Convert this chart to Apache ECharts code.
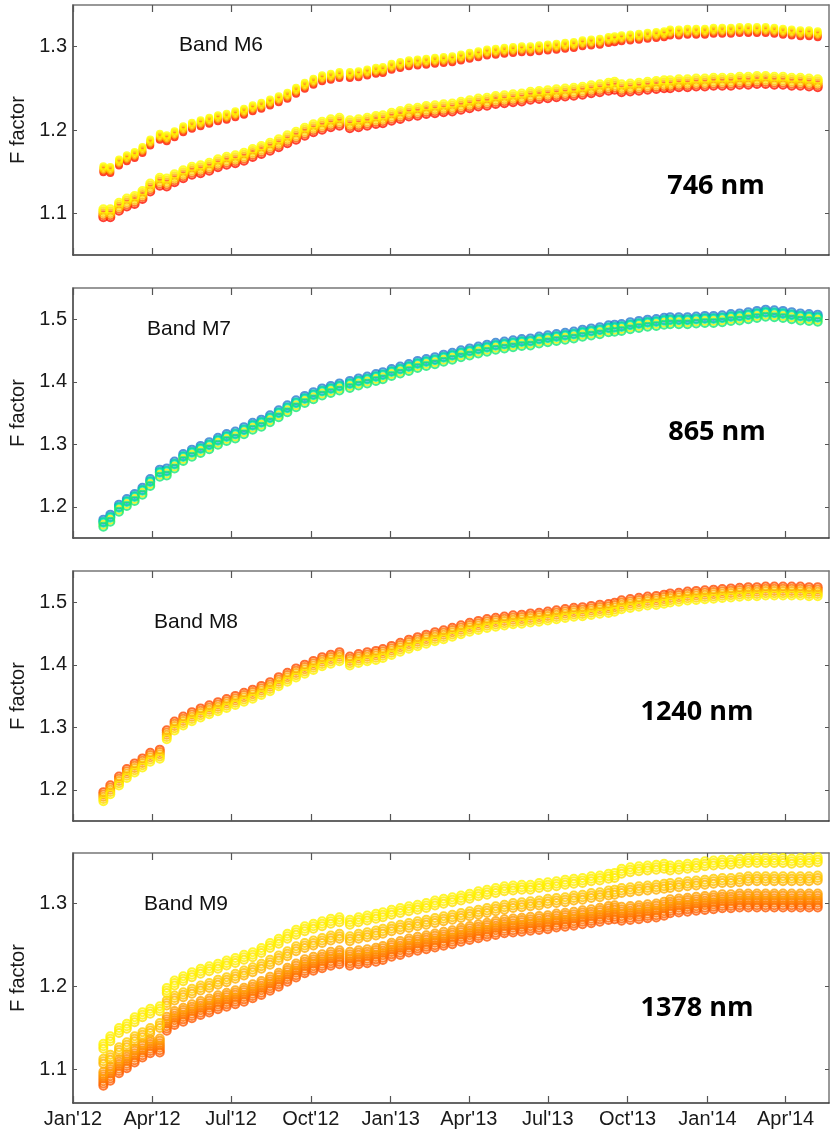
<!DOCTYPE html>
<html>
<head>
<meta charset="utf-8">
<script src="https://cdn.jsdelivr.net/npm/echarts@6/dist/echarts.min.js"></script>
<style>
  html, body { margin: 0; padding: 0; background: #fff; }
  #chart { width: 831px; height: 1131px; }
</style>
</head>
<body>
<div id="chart"></div>
<script>
// F factor trends, VIIRS bands M6-M9
const dates = [
  '2012-02-05','2012-02-13','2012-02-23','2012-03-03','2012-03-12','2012-03-21','2012-03-30','2012-04-10','2012-04-18','2012-04-27',
  '2012-05-07','2012-05-17','2012-05-27','2012-06-06','2012-06-16','2012-06-26','2012-07-06','2012-07-16','2012-07-26','2012-08-05',
  '2012-08-15','2012-08-25','2012-09-04','2012-09-14','2012-09-24','2012-10-04','2012-10-14','2012-10-24','2012-11-03','2012-11-15',
  '2012-11-25','2012-12-05','2012-12-15','2012-12-23','2013-01-02','2013-01-12','2013-01-22','2013-02-01','2013-02-11','2013-02-21',
  '2013-03-03','2013-03-13','2013-03-23','2013-04-02','2013-04-12','2013-04-22','2013-05-02','2013-05-12','2013-05-22','2013-06-01',
  '2013-06-11','2013-06-21','2013-07-01','2013-07-11','2013-07-21','2013-07-31','2013-08-10','2013-08-20','2013-08-30','2013-09-09',
  '2013-09-16','2013-09-24','2013-10-04','2013-10-14','2013-10-24','2013-11-03','2013-11-12','2013-11-19','2013-11-29','2013-12-09',
  '2013-12-19','2013-12-29','2014-01-08','2014-01-18','2014-01-28','2014-02-07','2014-02-17','2014-02-27','2014-03-09','2014-03-19',
  '2014-03-29','2014-04-08','2014-04-18','2014-04-28','2014-05-08'
];

const xTickDates = ['2012-01-01','2012-04-01','2012-07-01','2012-10-01','2013-01-01','2013-04-01','2013-07-01','2013-10-01','2014-01-01','2014-04-01'];
const xTickLabels = ["Jan'12","Apr'12","Jul'12","Oct'12","Jan'13","Apr'13","Jul'13","Oct'13","Jan'14","Apr'14"];

// Band M6, two groups of detectors
const m6Lower = [
  1.100,1.100,1.108,1.113,1.116,1.122,1.131,1.138,1.137,1.142,
  1.147,1.151,1.153,1.156,1.160,1.163,1.165,1.168,1.1725,1.176,
  1.180,1.184,1.189,1.193,1.198,1.202,1.205,1.208,1.210,1.207,
  1.208,1.210,1.212,1.213,1.216,1.218,1.221,1.222,1.224,1.225,
  1.226,1.227,1.229,1.231,1.233,1.234,1.236,1.237,1.238,1.239,
  1.241,1.242,1.243,1.244,1.245,1.246,1.247,1.249,1.250,1.252,
  1.253,1.250,1.251,1.252,1.253,1.254,1.255,1.255,1.256,1.256,
  1.257,1.257,1.258,1.258,1.258,1.259,1.259,1.260,1.260,1.259,
  1.259,1.258,1.258,1.257,1.256
];
const m6Upper = [
  1.153,1.152,1.161,1.166,1.170,1.176,1.185,1.192,1.190,1.195,
  1.201,1.205,1.208,1.211,1.214,1.216,1.219,1.222,1.226,1.229,
  1.233,1.237,1.241,1.247,1.253,1.258,1.262,1.264,1.266,1.266,
  1.267,1.269,1.271,1.272,1.276,1.278,1.280,1.281,1.282,1.283,
  1.284,1.285,1.287,1.289,1.291,1.293,1.294,1.295,1.296,1.297,
  1.297,1.298,1.299,1.300,1.301,1.302,1.304,1.305,1.306,1.308,
  1.309,1.310,1.311,1.312,1.313,1.314,1.315,1.317,1.317,1.318,
  1.318,1.318,1.319,1.319,1.319,1.320,1.320,1.320,1.320,1.319,
  1.318,1.317,1.316,1.316,1.315
];
// Band M7
const m7 = [
  1.173,1.181,1.197,1.206,1.214,1.224,1.238,1.253,1.255,1.266,
  1.278,1.285,1.291,1.297,1.304,1.310,1.314,1.321,1.328,1.333,
  1.340,1.348,1.356,1.364,1.371,1.377,1.383,1.387,1.391,1.395,
  1.399,1.402,1.406,1.409,1.414,1.418,1.422,1.427,1.430,1.433,
  1.437,1.440,1.444,1.447,1.450,1.453,1.456,1.458,1.460,1.462,
  1.463,1.466,1.468,1.470,1.472,1.474,1.477,1.479,1.481,1.484,
  1.485,1.486,1.489,1.491,1.493,1.494,1.496,1.497,1.497,1.497,
  1.498,1.499,1.499,1.500,1.502,1.503,1.505,1.507,1.509,1.508,
  1.507,1.505,1.503,1.502,1.501
];
// Band M8
const m8 = [
  1.189,1.200,1.214,1.226,1.235,1.243,1.252,1.257,1.288,1.302,
  1.310,1.317,1.323,1.328,1.333,1.338,1.343,1.348,1.353,1.359,
  1.365,1.373,1.380,1.387,1.393,1.399,1.405,1.409,1.413,1.406,
  1.410,1.413,1.415,1.418,1.423,1.428,1.433,1.437,1.441,1.445,
  1.448,1.452,1.456,1.460,1.463,1.466,1.468,1.470,1.472,1.473,
  1.475,1.476,1.478,1.480,1.482,1.484,1.485,1.487,1.489,1.490,
  1.492,1.496,1.498,1.500,1.502,1.503,1.505,1.507,1.508,1.510,
  1.511,1.512,1.513,1.514,1.515,1.516,1.517,1.517,1.518,1.518,
  1.518,1.518,1.518,1.517,1.517
];
// Band M9, three groups of detectors
const m9Top = [
  1.128,1.137,1.147,1.152,1.160,1.166,1.170,1.173,1.195,1.204,
  1.209,1.214,1.218,1.221,1.224,1.228,1.231,1.235,1.238,1.243,
  1.249,1.254,1.260,1.265,1.269,1.272,1.275,1.278,1.280,1.277,
  1.280,1.282,1.284,1.286,1.289,1.291,1.293,1.295,1.297,1.300,
  1.302,1.304,1.306,1.308,1.311,1.313,1.315,1.317,1.318,1.319,
  1.319,1.321,1.322,1.323,1.325,1.326,1.327,1.329,1.330,1.332,
  1.333,1.338,1.340,1.341,1.342,1.343,1.344,1.342,1.343,1.344,
  1.345,1.347,1.348,1.349,1.349,1.350,1.351,1.351,1.351,1.351,
  1.351,1.350,1.351,1.351,1.352
];
const m9Mid = [
  1.110,1.115,1.124,1.130,1.137,1.142,1.147,1.153,1.180,1.186,
  1.190,1.194,1.198,1.201,1.205,1.208,1.212,1.216,1.220,1.224,
  1.229,1.234,1.239,1.245,1.249,1.252,1.255,1.258,1.260,1.257,
  1.260,1.262,1.264,1.266,1.269,1.271,1.273,1.275,1.277,1.279,
  1.281,1.283,1.285,1.287,1.289,1.291,1.293,1.295,1.297,1.298,
  1.299,1.300,1.302,1.303,1.304,1.306,1.307,1.309,1.310,1.312,
  1.313,1.315,1.316,1.317,1.318,1.319,1.320,1.321,1.322,1.323,
  1.324,1.325,1.326,1.327,1.327,1.328,1.329,1.329,1.329,1.329,
  1.329,1.329,1.329,1.329,1.330
];
const m9Bottom = [
  1.089,1.095,1.104,1.110,1.117,1.123,1.128,1.129,1.155,1.162,
  1.166,1.170,1.174,1.177,1.181,1.184,1.187,1.190,1.194,1.198,
  1.203,1.208,1.214,1.219,1.224,1.227,1.230,1.233,1.235,1.233,
  1.235,1.236,1.238,1.240,1.244,1.246,1.249,1.251,1.253,1.255,
  1.257,1.259,1.262,1.264,1.266,1.268,1.270,1.272,1.273,1.274,
  1.275,1.276,1.277,1.279,1.280,1.281,1.283,1.284,1.286,1.288,
  1.289,1.287,1.288,1.289,1.290,1.291,1.293,1.296,1.297,1.298,
  1.299,1.300,1.301,1.302,1.302,1.303,1.303,1.303,1.303,1.303,
  1.303,1.303,1.303,1.303,1.303
];

const yTicks6 = [1.1, 1.2, 1.3];
const yTicks7 = [1.2, 1.3, 1.4, 1.5];
const yTicks8 = [1.2, 1.3, 1.4, 1.5];
const yTicks9 = [1.1, 1.2, 1.3];

// detector rings: pixel shift + colour (drawn first to last)
const autumn = ['#ff1000', '#ff5a00', '#ffb800', '#ffe400', '#ffff00'];
function ring(shifts, colors) {
  return shifts.map((s, i) => ({ s: s, c: colors[i] }));
}

const panels = [
  {
    top: 5, min: 1.05, max: 1.35, ticks: yTicks6,
    band: 'Band M6', bandPos: [179, 45], wl: '746 nm', wlPos: [716, 186],
    strands: [
      { data: m6Lower, size: 8, det: ring([4, 2, 0, -2, -4], autumn) },
      { data: m6Upper, size: 6, det: ring([3, 1.5, 0, -1.5, -3], autumn) }
    ]
  },
  {
    top: 288, min: 1.15, max: 1.55, ticks: yTicks7,
    band: 'Band M7', bandPos: [147, 329], wl: '865 nm', wlPos: [717, 432],
    strands: [
      { data: m7, size: 8, det: ring([-4, -2, 1, -1, 3], ['#2a7ad0', '#00bcb0', '#e8f000', '#00e0a0', '#14e878']) }
    ]
  },
  {
    top: 571, min: 1.15, max: 1.55, ticks: yTicks8,
    band: 'Band M8', bandPos: [154, 622], wl: '1240 nm', wlPos: [697, 712],
    strands: [
      { data: m8, size: 8, det: ring([-4.5, -2.25, 0, 2.25, 4.5], ['#ff4a00', '#ff7800', '#ffa800', '#ffd400', '#fff200']) }
    ]
  },
  {
    top: 853, min: 1.06, max: 1.36, ticks: yTicks9,
    band: 'Band M9', bandPos: [144, 904], wl: '1378 nm', wlPos: [697, 1008],
    strands: [
      { data: m9Bottom, size: 8, det: ring([7, 4.7, 2.3, 0, -2.3, -4.7, -7],
        ['#ff5800', '#ff6400', '#ff7000', '#ff7c00', '#ff8800', '#ff9400', '#ffa200']) },
      { data: m9Mid, size: 8, det: ring([2.5, 0, -2.5], ['#ffb000', '#ffbe00', '#ffcc00']) },
      { data: m9Top, size: 8, det: ring([2.5, 0, -2.5], ['#ffe000', '#ffec00', '#fff400']) }
    ]
  }
];

const GRID_LEFT = 73, GRID_W = 756, GRID_H = 250;
const toMs = d => echarts.time.parse(d).getTime();
const X_MIN = toMs('2012-01-01'), X_MAX = toMs('2014-05-21');
const tickMs = xTickDates.map(toMs);
const dateMs = dates.map(toMs);
const labelFont = { fontFamily: 'Liberation Sans, Arial, sans-serif', fontSize: 20, color: '#1a1a1a' };

const grid = [], xAxis = [], yAxis = [], series = [], graphic = [];

panels.forEach((p, pi) => {
  grid.push({ left: GRID_LEFT, top: p.top, width: GRID_W, height: GRID_H });
  const last = pi === panels.length - 1;
  // bottom and top date axes (values are ms timestamps)
  [['bottom', '#333'], ['top', '#777']].forEach(([pos, col]) => {
    xAxis.push({
      type: 'value', gridIndex: pi, position: pos, min: X_MIN, max: X_MAX,
      axisLine: { show: true, onZero: false, lineStyle: { color: col, width: 1.5 } },
      axisTick: { show: true, inside: true, length: 7, customValues: tickMs, lineStyle: { color: '#555', width: 1.2 } },
      axisLabel: {
        show: last && pos === 'bottom', customValues: tickMs, margin: 6, ...labelFont,
        formatter: v => { const i = tickMs.indexOf(v); return i >= 0 ? xTickLabels[i] : ''; }
      },
      splitLine: { show: false }
    });
  });
  // left and right value axes
  [['left', '#333'], ['right', '#777']].forEach(([pos, col]) => {
    yAxis.push({
      type: 'value', gridIndex: pi, position: pos, min: p.min, max: p.max,
      name: pos === 'left' ? 'F factor' : '', nameLocation: 'middle', nameGap: 40,
      nameTextStyle: { ...labelFont },
      axisLine: { show: true, onZero: false, lineStyle: { color: col, width: 1.5 } },
      axisTick: { show: true, inside: true, length: 4, customValues: p.ticks, lineStyle: { color: '#555' } },
      axisLabel: { show: pos === 'left', customValues: p.ticks, margin: 6, ...labelFont, formatter: v => v.toFixed(1) },
      splitLine: { show: false }
    });
  });

  p.strands.forEach(st => {
    st.det.forEach(d => {
      series.push({
        type: 'scatter',
        xAxisIndex: pi * 2, yAxisIndex: pi * 2,
        data: dateMs.map((t, i) => [t, st.data[i]]),
        symbol: 'circle', symbolSize: st.size, symbolOffset: [0, d.s],
        itemStyle: { color: 'rgba(0,0,0,0)', borderColor: d.c, borderWidth: 2 },
        silent: true, animation: false
      });
    });
  });

  graphic.push({
    type: 'text', x: p.bandPos[0], y: p.bandPos[1],
    style: { text: p.band, font: '21px "Liberation Sans", Arial, sans-serif', fill: '#111',
      align: 'left', textAlign: 'left', verticalAlign: 'middle', textVerticalAlign: 'middle' }
  });
  graphic.push({
    type: 'text', x: p.wlPos[0], y: p.wlPos[1],
    style: { text: p.wl, font: 'bold 27px "Open Sans", sans-serif', fill: '#000',
      align: 'center', textAlign: 'center', verticalAlign: 'middle', textVerticalAlign: 'middle' }
  });
});

const chart = echarts.init(document.getElementById('chart'), null, { renderer: 'canvas' });
chart.setOption({
  backgroundColor: '#fff',
  animation: false,
  grid, xAxis, yAxis, series, graphic
});
</script>
</body>
</html>
